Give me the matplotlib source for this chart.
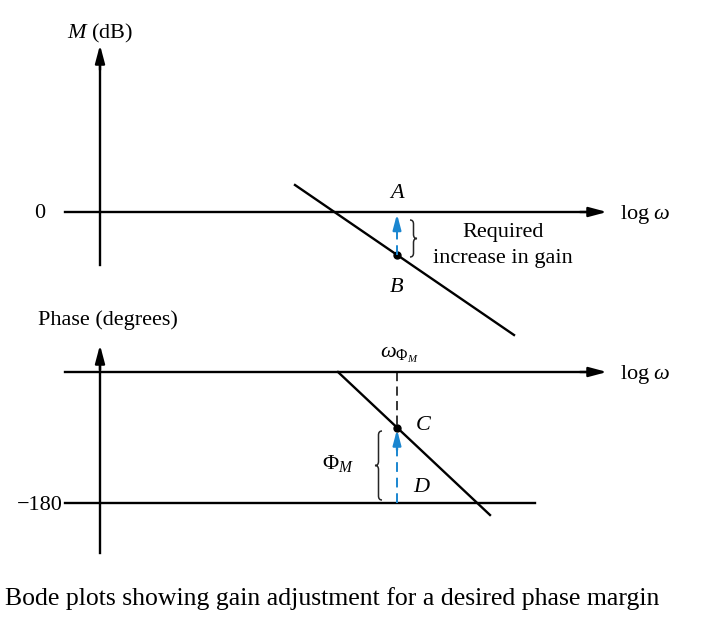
import numpy as np
import matplotlib
matplotlib.use("Agg")
from matplotlib import pyplot as plt
from matplotlib.path import Path
from matplotlib.patches import PathPatch

plt.rcParams['font.family'] = ['Liberation Serif', 'DejaVu Serif']
plt.rcParams['mathtext.fontset'] = 'custom'
plt.rcParams['mathtext.rm'] = 'Liberation Serif'
plt.rcParams['mathtext.it'] = 'Liberation Serif:italic'

# diagram coordinates (x = log w position, y = vertical position, top-down)
mag_axis_y = 212
phase_axis_y = 372
minus180_y = 503
w_phi_m = 397

mag_line_x = [295, 514]
mag_line_y = [185, 335]
phase_line_x = [338, 490]
phase_line_y = [372, 515]

caption = "Bode plots showing gain adjustment for a desired phase margin"

BLUE = '#1a86d0'
LW = 1.7
FS = 16
DY = 2  # text baseline nudge

fig = plt.figure(figsize=(7.22, 6.35), dpi=100)
ax = fig.add_axes([0, 0, 1, 1])
ax.set_xlim(0, 722)
ax.set_ylim(635, 0)
ax.axis('off')


def arrow(x0, y0, x1, y1, color='k', scale=18):
    ax.annotate('', xy=(x1, y1), xytext=(x0, y0),
                arrowprops=dict(arrowstyle='-|>,head_length=0.6,head_width=0.16',
                                lw=LW, color=color, mutation_scale=scale,
                                shrinkA=0, shrinkB=0))


def label(x, y, s, **kw):
    kw.setdefault('ha', 'center')
    kw.setdefault('fontsize', FS)
    ax.text(x, y + DY, s, va='center', **kw)


def brace(x, y0, y1, w, side):
    # side=+1 -> '}' (tip to the right), side=-1 -> '{'
    ym = (y0 + y1) / 2
    r = 4
    xm = x + side * w / 2
    xt = x + side * w
    verts = [(x, y0), (xm, y0), (xm, y0 + r),
             (xm, ym - r),
             (xm, ym), (xt, ym),
             (xm, ym), (xm, ym + r),
             (xm, y1 - r),
             (xm, y1), (x, y1)]
    codes = [Path.MOVETO, Path.CURVE3, Path.CURVE3,
             Path.LINETO,
             Path.CURVE3, Path.CURVE3,
             Path.CURVE3, Path.CURVE3,
             Path.LINETO,
             Path.CURVE3, Path.CURVE3]
    ax.add_patch(PathPatch(Path(verts, codes), fill=False, lw=1.1, color='0.15'))


# ---- magnitude plot ----
ax.plot([100, 100], [265, 60], color='k', lw=LW)
arrow(100, 70, 100, 45)
ax.plot([65, 590], [mag_axis_y, mag_axis_y], color='k', lw=LW)
arrow(580, mag_axis_y, 607, mag_axis_y)
label(100, 31, r"$M$ (dB)")
label(40, mag_axis_y, "0")
label(620, mag_axis_y, r"log $\omega$", ha='left')

ax.plot(mag_line_x, mag_line_y, color='k', lw=LW)
slope_m = (mag_line_y[1] - mag_line_y[0]) / (mag_line_x[1] - mag_line_x[0])
b_y = mag_line_y[0] + (w_phi_m - mag_line_x[0]) * slope_m
ax.plot([w_phi_m], [b_y], 'o', color='k', ms=5)
ax.plot([w_phi_m, w_phi_m], [b_y, 228], color=BLUE, lw=1.4, dashes=(5, 3))
arrow(w_phi_m, 232, w_phi_m, mag_axis_y + 2, color=BLUE, scale=15)
label(w_phi_m, 192, "$A$")
label(w_phi_m, 286, "$B$")
brace(410, 220, 257, 7, 1)
label(503, 231, "Required")
label(503, 256, "increase in gain")

# ---- phase plot ----
ax.plot([100, 100], [553, 360], color='k', lw=LW)
arrow(100, 370, 100, 345)
ax.plot([65, 590], [phase_axis_y, phase_axis_y], color='k', lw=LW)
arrow(580, phase_axis_y, 607, phase_axis_y)
ax.plot([65, 535], [minus180_y, minus180_y], color='k', lw=LW)
label(108, 318, "Phase (degrees)")
label(620, phase_axis_y, r"log $\omega$", ha='left')
label(40, minus180_y, "\u2212180")
label(w_phi_m + 2, 353, r"$\omega_{\Phi_M}$")

ax.plot(phase_line_x, phase_line_y, color='k', lw=LW)
slope_p = (phase_line_y[1] - phase_line_y[0]) / (phase_line_x[1] - phase_line_x[0])
c_y = phase_line_y[0] + (w_phi_m - phase_line_x[0]) * slope_p
ax.plot([w_phi_m, w_phi_m], [phase_axis_y, c_y], color='k', lw=1.1, dashes=(6, 3.5))
ax.plot([w_phi_m], [c_y], 'o', color='k', ms=5)
ax.plot([w_phi_m, w_phi_m], [minus180_y, 446], color=BLUE, lw=1.4, dashes=(5, 3))
arrow(w_phi_m, 450, w_phi_m, c_y + 2, color=BLUE, scale=15)
label(424, 424, "$C$")
label(422, 486, "$D$")
brace(382, 431, 500, 7, -1)
label(338, 461, r"$\Phi_M$")

label(5, 597, caption, ha='left', fontsize=18.5)

fig.savefig("out.png", dpi=100)
